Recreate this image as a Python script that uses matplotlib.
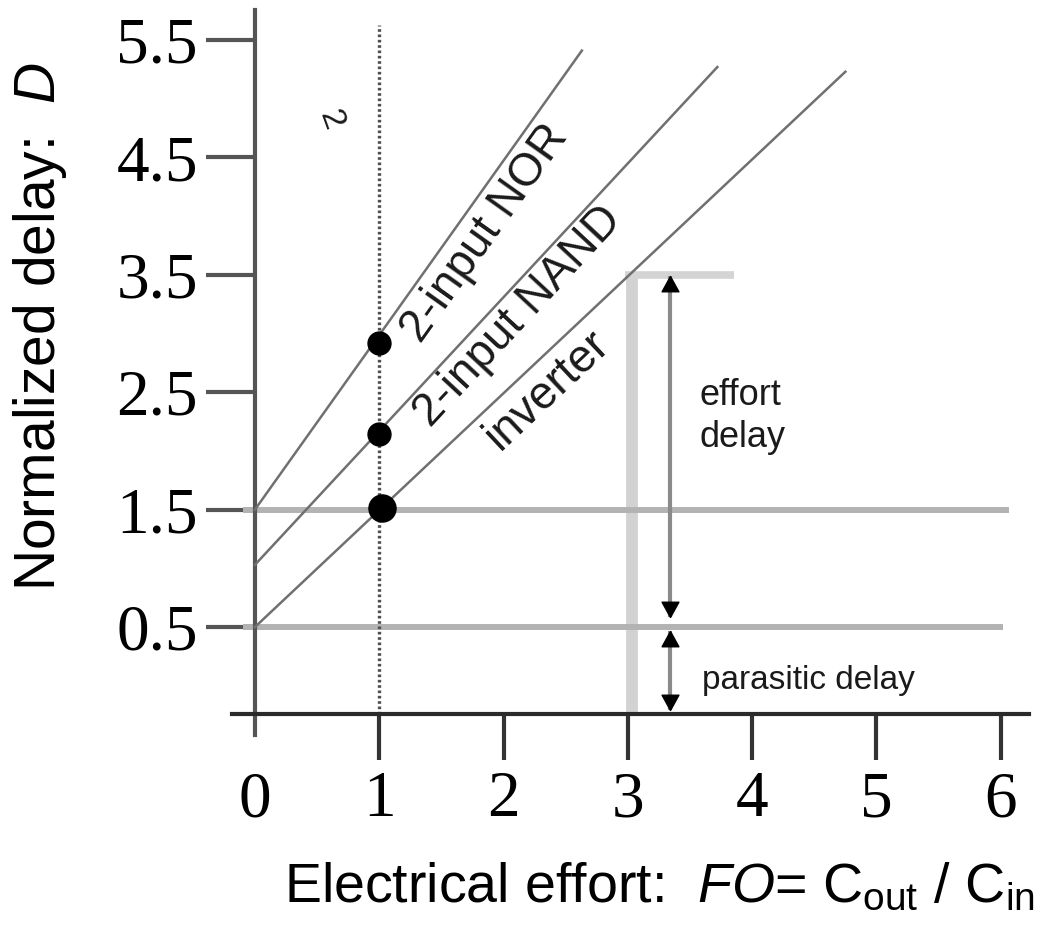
"""Logical effort delay plot: normalized delay vs electrical effort."""

import math

import matplotlib

matplotlib.use("Agg")
import matplotlib.pyplot as plt

plt.rcParams["font.family"] = ["Liberation Sans", "DejaVu Sans"]
plt.rcParams["mathtext.fontset"] = "custom"
plt.rcParams["mathtext.rm"] = "Liberation Sans"
plt.rcParams["mathtext.it"] = "Liberation Sans:italic"

# ---- data ----
x_ticks = [0, 1, 2, 3, 4, 5, 6]
y_ticks = [0.5, 1.5, 2.5, 3.5, 4.5, 5.5]
y_tick_labels = ["0.5", "1.5", "2.5", "3.5", "4.5", "5.5"]

gate_names = ["2-input NOR", "2-input NAND", "inverter"]
gate_x = [[0, 2.63], [0, 3.72], [0, 4.75]]
gate_y = [[1.5, 5.41], [1.03, 5.27], [0.5, 5.23]]
label_x = [1.85, 2.12, 2.35]
label_y = [3.85, 3.15, 2.52]

dot_x = [1.0, 1.0]
dot_y = [2.92, 2.14]
inv_dot = (1.02, 1.51)

parasitic_levels = [1.5, 0.5]
parasitic_ends = [6.07, 6.02]

baseline_y = -0.24
bar_x = 3.03
bar_top = 3.5
bar_right = 3.85

arrow_x = 3.34
effort_span = [0.585, 3.49]
parasitic_span = [-0.21, 0.47]

# ---- figure: one axes spanning the whole canvas ----
fig = plt.figure(figsize=(10.45, 9.25), dpi=100)
ax = fig.add_axes([0, 0, 1, 1])
ax.set_xlim(-2.051, 6.356)
ax.set_ylim(-2.038, 5.841)
ax.patch.set_alpha(0)

for side in ["top", "right"]:
    ax.spines[side].set_visible(False)
ax.spines["left"].set_position(("data", 0))
ax.spines["left"].set_bounds(-0.42, 5.76)
ax.spines["left"].set_color("#555555")
ax.spines["left"].set_linewidth(3)
ax.spines["bottom"].set_position(("data", baseline_y))
ax.spines["bottom"].set_bounds(-0.185, 6.23)
ax.spines["bottom"].set_color("#2a2a2a")
ax.spines["bottom"].set_linewidth(3)

ax.set_xticks(x_ticks)
ax.set_xticklabels([str(v) for v in x_ticks])
ax.set_yticks(y_ticks)
ax.set_yticklabels(y_tick_labels)
ax.tick_params(axis="x", direction="out", length=33, width=3, color="#333333",
               pad=8, labelsize=47)
ax.tick_params(axis="y", direction="out", length=35, width=3, color="#555555",
               pad=6, labelsize=47)
ax.xaxis.get_major_ticks()[0].tick1line.set_visible(False)
for lbl in ax.get_xticklabels() + ax.get_yticklabels():
    lbl.set_fontfamily("Liberation Serif")

# axis labels
ax.set_xlabel(r"Electrical effort:  $\mathit{FO}$= C$_{\mathrm{out}}$ / C$_{\mathrm{in}}$",
              fontsize=40, ha="left", va="top")
ax.xaxis.set_label_coords(284 / 1045, 1 - 862 / 925)
ax.set_ylabel(r"Normalized delay:  $\mathit{D}$", fontsize=41, va="center")
ax.yaxis.set_label_coords(40 / 1045, 1 - 326 / 925)

# grey reference levels
for lvl, xe in zip(parasitic_levels, parasitic_ends):
    ax.plot([-0.1, xe], [lvl, lvl], color="#b3b3b3", lw=4.3, zorder=2,
            solid_capstyle="butt")

# light grey bar at FO = 3
ax.plot([bar_x, bar_x], [baseline_y, bar_top], color="#d2d2d2", lw=8.5,
        zorder=1.5, solid_capstyle="butt")
ax.plot([bar_x - 0.05, bar_right], [bar_top, bar_top], color="#d4d4d4",
        lw=5.5, zorder=1.5, solid_capstyle="butt")

# dotted FO = 1 guide
ax.plot([1, 1], [baseline_y, 5.63], color="#505050", lw=2.4,
        linestyle=(0, (0.8, 0.8)), zorder=2)

# gate delay lines
for gx, gy in zip(gate_x, gate_y):
    ax.plot(gx, gy, color="#707070", lw=1.8, zorder=3)

# labels along the lines
for name, tx, ty, gx, gy in zip(gate_names, label_x, label_y, gate_x, gate_y):
    p = ax.transData.transform([[gx[0], gy[0]], [gx[1], gy[1]]])
    ang = math.degrees(math.atan2(p[1, 1] - p[0, 1], p[1, 0] - p[0, 0]))
    ax.text(tx, ty, name, fontsize=33, rotation=ang, rotation_mode="anchor",
            ha="center", va="center", color="#1a1a1a")

ax.text(0.611, 4.82, "2", fontsize=24, rotation=-70, rotation_mode="anchor",
        ha="center", va="center", color="#1a1a1a")

# points at FO = 1
ax.plot(dot_x, dot_y, "o", color="black", ms=16.5, zorder=4)
ax.plot([inv_dot[0]], [inv_dot[1]], "o", color="black", ms=19.5, zorder=4)

# delay arrows
head_up = [(0, 0), (-0.55, -1), (0.55, -1), (0, 0)]
head_down = [(0, 0), (-0.55, 1), (0.55, 1), (0, 0)]
for lo, hi in [effort_span, parasitic_span]:
    ax.plot([arrow_x, arrow_x], [lo, hi], color="#8a8a8a", lw=3, zorder=3,
            solid_capstyle="butt")
    ax.plot([arrow_x], [hi], marker=head_up, ms=22, color="black", zorder=4,
            linestyle="none")
    ax.plot([arrow_x], [lo], marker=head_down, ms=22, color="black", zorder=4,
            linestyle="none")

ax.text(3.58, 2.62, "effort\ndelay", fontsize=26, ha="left", va="top",
        linespacing=1.25, color="#1a1a1a")
ax.text(3.60, -0.03, "parasitic delay", fontsize=24, ha="left",
        va="baseline", color="#1a1a1a")

fig.savefig("out.png", dpi=100)
